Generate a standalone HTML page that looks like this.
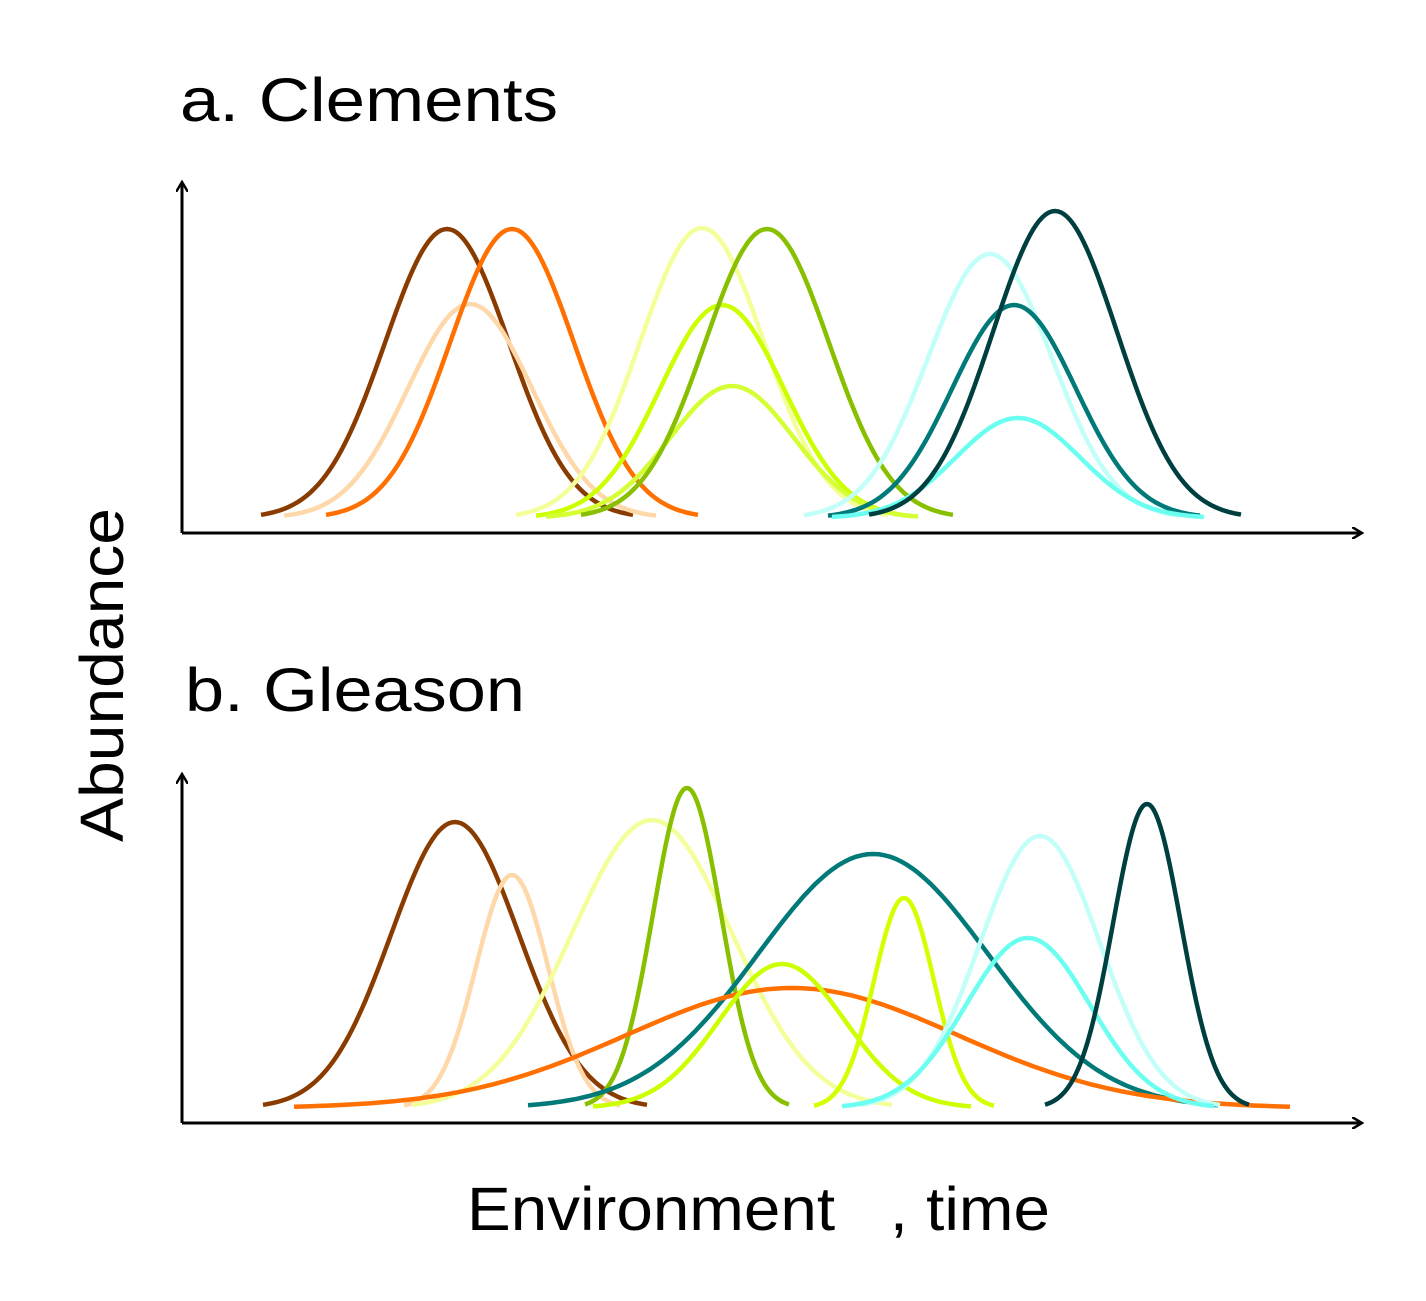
<!DOCTYPE html>
<html><head><meta charset="utf-8"><style>
html,body{margin:0;padding:0;background:#fff;}
svg{display:block;font-family:"Liberation Sans",sans-serif;}
</style></head><body>
<svg id="chart" width="1426" height="1301" viewBox="0 0 1426 1301" xmlns="http://www.w3.org/2000/svg">
<defs>
<marker id="arr" markerWidth="12" markerHeight="12" refX="10" refY="6" orient="auto" markerUnits="userSpaceOnUse">
<path d="M0,0 L10,6 L0,12" fill="none" stroke="#000" stroke-width="2.5"/></marker>
</defs>
<text x="180" y="121" font-size="61" textLength="378" lengthAdjust="spacingAndGlyphs">a. Clements</text>
<text x="185" y="711" font-size="61" textLength="340" lengthAdjust="spacingAndGlyphs">b. Gleason</text>
<text transform="translate(123,675) rotate(-90)" text-anchor="middle" font-size="61" textLength="334" lengthAdjust="spacingAndGlyphs">Abundance</text>
<text x="467" y="1230" font-size="61" xml:space="preserve" textLength="583" lengthAdjust="spacingAndGlyphs">Environment   , time</text>
<line x1="182" y1="533" x2="182" y2="182" stroke="#000" stroke-width="3" marker-end="url(#arr)"/>
<line x1="182" y1="533" x2="1362" y2="533" stroke="#000" stroke-width="3" marker-end="url(#arr)"/>
<line x1="182" y1="1123" x2="182" y2="774" stroke="#000" stroke-width="3" marker-end="url(#arr)"/>
<line x1="182" y1="1123" x2="1362" y2="1123" stroke="#000" stroke-width="3" marker-end="url(#arr)"/>
<g id="curves"></g>
</svg>
<script>
const speciesColors = ["#8a3c00","#ffd8aa","#ff7000","#f4ff99","#ccff00","#d4ff33","#88c000","#c2fff8","#007a78","#6afff0","#003f40"];
const clementsCenters = [265,288,330,520,540,550,585,808,832,836,873];
const clementsHeights = [289,214,289,290,213,132,289,264,213,100,307];
const clementsWidths = [62,62,62,62,62,62,62,62,62,62,62];
const gleasonColors = ["#8a3c00","#ffd8aa","#f4ff99","#88c000","#007a78","#ff7000","#ccff00","#d4ff00","#c2fff8","#6afff0","#003f40"];
const gleasonCenters = [273,330,470,505,691,610,600,722,858,846,965];
const gleasonHeights = [286,233,288,320,254,120,144,210,272,170,304];
const gleasonWidths = [64,36,80,34,115,166,63,30,60,62,34];

const svgNS="http://www.w3.org/2000/svg";
const g=document.getElementById('curves');
function xScale(v){return 182+v;}
function yScaleA(v){return 518-v;}
function yScaleB(v){return 1108-v;}
function drawPanel(centers,heights,widths,colors,yS,prefix){
  for(let i=0;i<centers.length;i++){
    const c=centers[i],h=heights[i],s=widths[i];
    let d="";
    for(let k=0;k<=120;k++){
      const v=c-3*s+k*(6*s/120);
      const a=h*Math.exp(-0.5*Math.pow((v-c)/s,2));
      d+=(k?"L":"M")+xScale(v).toFixed(1)+","+yS(a).toFixed(1);
    }
    const p=document.createElementNS(svgNS,'path');
    p.setAttribute('d',d);
    p.setAttribute('fill','none');
    p.setAttribute('stroke',colors[i]);
    p.setAttribute('stroke-width','4.5');
    
    
    g.appendChild(p);
  }
}
drawPanel(clementsCenters,clementsHeights,clementsWidths,speciesColors,yScaleA,'clements');
drawPanel(gleasonCenters,gleasonHeights,gleasonWidths,gleasonColors,yScaleB,'gleason');
</script>
</body></html>
